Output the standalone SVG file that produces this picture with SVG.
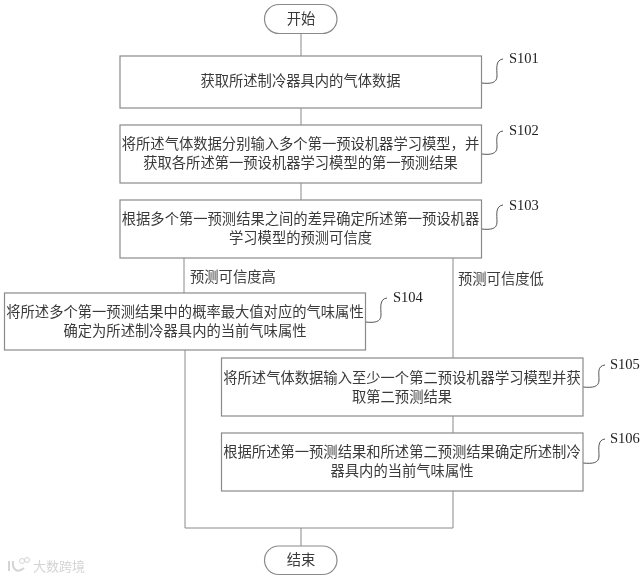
<svg xmlns="http://www.w3.org/2000/svg" width="640" height="579" viewBox="0 0 640 579">
<defs><filter id="g" x="-5%" y="-20%" width="110%" height="140%" color-interpolation-filters="sRGB"><feColorMatrix type="saturate" values="0"/><feGaussianBlur stdDeviation="0.2"/></filter></defs>
<style>
.box{fill:#fff;stroke:#8a8a8a;stroke-width:1.2}
.ln{fill:none;stroke:#8a8a8a;stroke-width:1}
.sq{fill:none;stroke:#555;stroke-width:1}
text{font-family:"Noto Sans CJK SC","Noto Sans CJK JP",sans-serif;font-size:14.3px;fill:#3a3a3a;font-weight:400;text-anchor:middle;filter:url(#g)}
.s{font-family:"Liberation Serif",serif;font-size:14.5px;text-anchor:start;fill:#222}
.l{text-anchor:start}
.wm{font-size:13px;fill:#d4d4d4;text-anchor:start}
</style>
<rect width="640" height="579" fill="#fff"/>
<g id="connectors">
<path class="ln" d="M301 33V56M301 108V125M301 183V200M184 258V293M185 350V528M453 258V358M453 416V433M453 491V528H185M301 528V546"/>
<path class="sq" d="M481.5 83C491 84 497 83 497 76C497 69 495 60 503 59"/>
<path class="sq" d="M481.5 154C491 155 497 154 497 147C497 140 495 132 503 131"/>
<path class="sq" d="M481.5 229C491 230 497 229 497 222C497 215 495 206 503 205"/>
<path class="sq" d="M365.5 322C375 323 381 322 381 315C381 308 379 299 387 298"/>
<path class="sq" d="M583 387C593 388 599 387 599 380C599 373 597 366 605 365"/>
<path class="sq" d="M583 463C593 464 599 463 599 456C599 449 597 440 605 439"/>
</g>
<g id="start"><rect class="box" x="264.500" y="4.500" width="72.500" height="29" rx="14.500"/><text x="301" y="23.500">开始</text></g>
<g id="S101"><rect class="box" x="120" y="56" width="361.500" height="52"/><text x="300.500" y="86">获取所述制冷器具内的气体数据</text><text class="s" x="509" y="63">S101</text></g>
<g id="S102"><rect class="box" x="120" y="125" width="361.500" height="58"/><text x="300.500" y="149">将所述气体数据分别输入多个第一预设机器学习模型，并</text><text x="300.500" y="168">获取各所述第一预设机器学习模型的第一预测结果</text><text class="s" x="509" y="135">S102</text></g>
<g id="S103"><rect class="box" x="120" y="200" width="361.500" height="58"/><text x="300.500" y="224">根据多个第一预测结果之间的差异确定所述第一预设机器</text><text x="300.500" y="243">学习模型的预测可信度</text><text class="s" x="509" y="210">S103</text></g>
<g id="S104"><rect class="box" x="4.500" y="293" width="361" height="57"/><text x="185" y="316.500">将所述多个第一预测结果中的概率最大值对应的气味属性</text><text x="185" y="335.500">确定为所述制冷器具内的当前气味属性</text><text class="s" x="393" y="302">S104</text></g>
<g id="S105"><rect class="box" x="221.500" y="358" width="361.500" height="58"/><text x="402" y="383">将所述气体数据输入至少一个第二预设机器学习模型并获</text><text x="402" y="402">取第二预测结果</text><text class="s" x="610" y="369">S105</text></g>
<g id="S106"><rect class="box" x="221.500" y="433" width="361.500" height="58"/><text x="402" y="457">根据所述第一预测结果和所述第二预测结果确定所述制冷</text><text x="402" y="476">器具内的当前气味属性</text><text class="s" x="610" y="443">S106</text></g>
<g id="end"><rect class="box" x="264.500" y="546" width="72.500" height="28.500" rx="14.250"/><text x="301" y="565">结束</text></g>
<g id="labels"><text class="l" x="190" y="282">预测可信度高</text><text class="l" x="458" y="284">预测可信度低</text></g>
<g id="watermark"><path d="M9 561V571M13 561C12 569 17 574 24 568" fill="none" stroke="#d4d4d4" stroke-width="2"/><circle cx="22" cy="561" r="2.500" fill="none" stroke="#d4d4d4"/><circle cx="27" cy="560" r="2.500" fill="none" stroke="#d4d4d4"/><text class="wm" x="33" y="571">大数跨境</text></g>
</svg>
